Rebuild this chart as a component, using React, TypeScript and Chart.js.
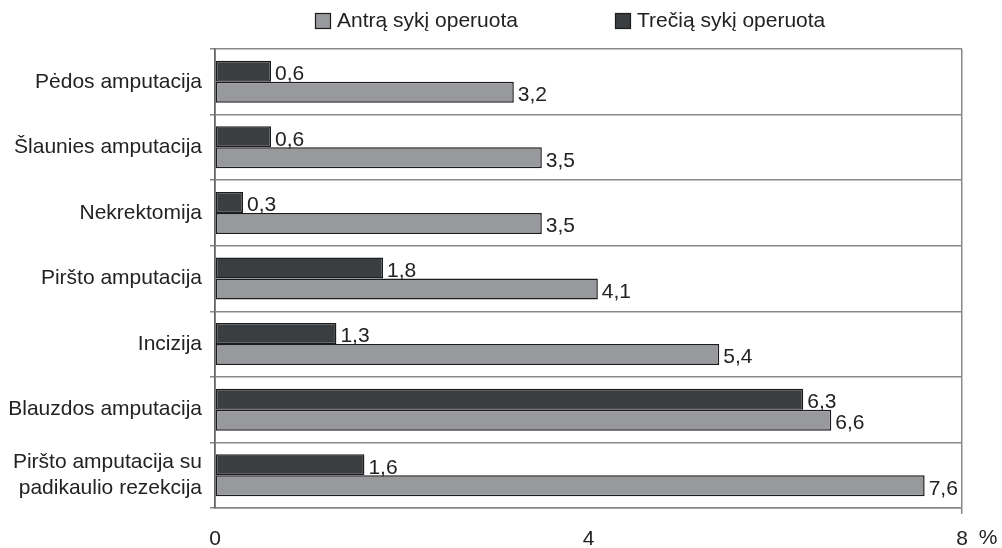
import React, { useEffect, useRef } from "react";
import { Chart, registerables } from "chart.js";

Chart.register(...registerables);

const categories: (string | string[])[] = [
  "Pėdos amputacija",
  "Šlaunies amputacija",
  "Nekrektomija",
  "Piršto amputacija",
  "Incizija",
  "Blauzdos amputacija",
  ["Piršto amputacija su", "padikaulio rezekcija"],
];
const antraSyki = [3.2, 3.5, 3.5, 4.1, 5.4, 6.6, 7.6];
const treciaSyki = [0.6, 0.6, 0.3, 1.8, 1.3, 6.3, 1.6];
const seriesNames = ["Antrą sykį operuota", "Trečią sykį operuota"];
const xTicks = [0, 4, 8];

const LIGHT = "#97999c";
const DARK = "#3b3e41";
const EDGE = "#1c1c1c";
const FONT = "Liberation Sans, Arial, Helvetica, sans-serif";

const valueLabels = {
  id: "valueLabels",
  afterDatasetsDraw(chart: any) {
    const ctx = chart.ctx;
    ctx.save();
    ctx.font = `21px ${FONT}`;
    ctx.fillStyle = "#222";
    ctx.textAlign = "left";
    ctx.textBaseline = "middle";
    chart.data.datasets.forEach((ds: any, di: number) => {
      const meta = chart.getDatasetMeta(di);
      meta.data.forEach((el: any, i: number) => {
        const v = ds.data[i];
        ctx.fillText(String(v).replace(".", ","), el.x + 4, el.y + 3);
      });
    });
    ctx.restore();
  },
};

const customLegend = {
  id: "customLegend",
  afterDraw(chart: any) {
    const ctx = chart.ctx;
    const a = chart.chartArea;
    const items = [
      { text: seriesNames[0], color: LIGHT, x: a.left + 100 },
      { text: seriesNames[1], color: DARK, x: a.left + 400 },
    ];
    ctx.save();
    ctx.font = `21px ${FONT}`;
    ctx.textBaseline = "middle";
    ctx.textAlign = "left";
    items.forEach((it) => {
      ctx.fillStyle = it.color;
      ctx.fillRect(it.x, 13, 16, 16);
      ctx.strokeStyle = EDGE;
      ctx.lineWidth = 1.2;
      ctx.strokeRect(it.x + 0.5, 13.5, 15, 15);
      ctx.fillStyle = "#222";
      ctx.fillText(it.text, it.x + 22, 21);
    });
    // percent sign next to last tick
    const xs = chart.scales.x;
    ctx.textAlign = "center";
    ctx.fillText("%", xs.getPixelForValue(8) + 26, 538);
    ctx.restore();
  },
};

export default function App() {
  const ref = useRef<HTMLCanvasElement | null>(null);
  useEffect(() => {
    if (!ref.current) return;
    const chart = new Chart(ref.current, {
      type: "bar",
      data: {
        labels: categories,
        datasets: [
          {
            label: seriesNames[1],
            data: treciaSyki,
            backgroundColor: DARK,
            borderColor: EDGE,
            borderWidth: 1.5,
            borderSkipped: false,
            barPercentage: 1,
            categoryPercentage: 0.64,
          },
          {
            label: seriesNames[0],
            data: antraSyki,
            backgroundColor: LIGHT,
            borderColor: EDGE,
            borderWidth: 1.5,
            borderSkipped: false,
            barPercentage: 1,
            categoryPercentage: 0.64,
          },
        ],
      },
      options: {
        indexAxis: "y",
        animation: false,
        responsive: false,
        maintainAspectRatio: false,
        layout: { padding: { top: 49, right: 40, left: 0, bottom: 0 } },
        plugins: {
          legend: { display: false },
          tooltip: { enabled: false },
        },
        scales: {
          x: {
            min: 0,
            max: 8,
            afterBuildTicks: (s: any) => {
              s.ticks = xTicks.map((v) => ({ value: v }));
            },
            afterFit: (s: any) => {
              s.height = 40;
            },
            ticks: {
              font: { family: FONT, size: 21 },
              color: "#222",
              padding: 13,
              maxRotation: 0,
              callback: (v: any) => String(v),
            },
            grid: {
              color: (c: any) => (c.tick && c.tick.value === 8 ? "#888" : "rgba(0,0,0,0)"),
              lineWidth: 1.5,
              tickLength: 6,
            },
            border: { display: true, color: "#888", width: 1.5 },
          },
          y: {
            afterFit: (s: any) => {
              s.width = 215;
            },
            ticks: {
              font: { family: FONT, size: 21 },
              color: "#222",
              padding: 8,
            },
            grid: {
              offset: true,
              color: "#888",
              lineWidth: 1.5,
              tickLength: 5,
            },
            border: { display: true, color: "#666", width: 1.8 },
          },
        },
      },
      plugins: [valueLabels, customLegend],
    });
    return () => chart.destroy();
  }, []);
  return (
    <div style={{ position: "fixed", left: 0, top: 0, width: 1002, height: 548, background: "#fff" }}>
      <canvas ref={ref} width={1002} height={548} style={{ width: 1002, height: 548 }} />
    </div>
  );
}
